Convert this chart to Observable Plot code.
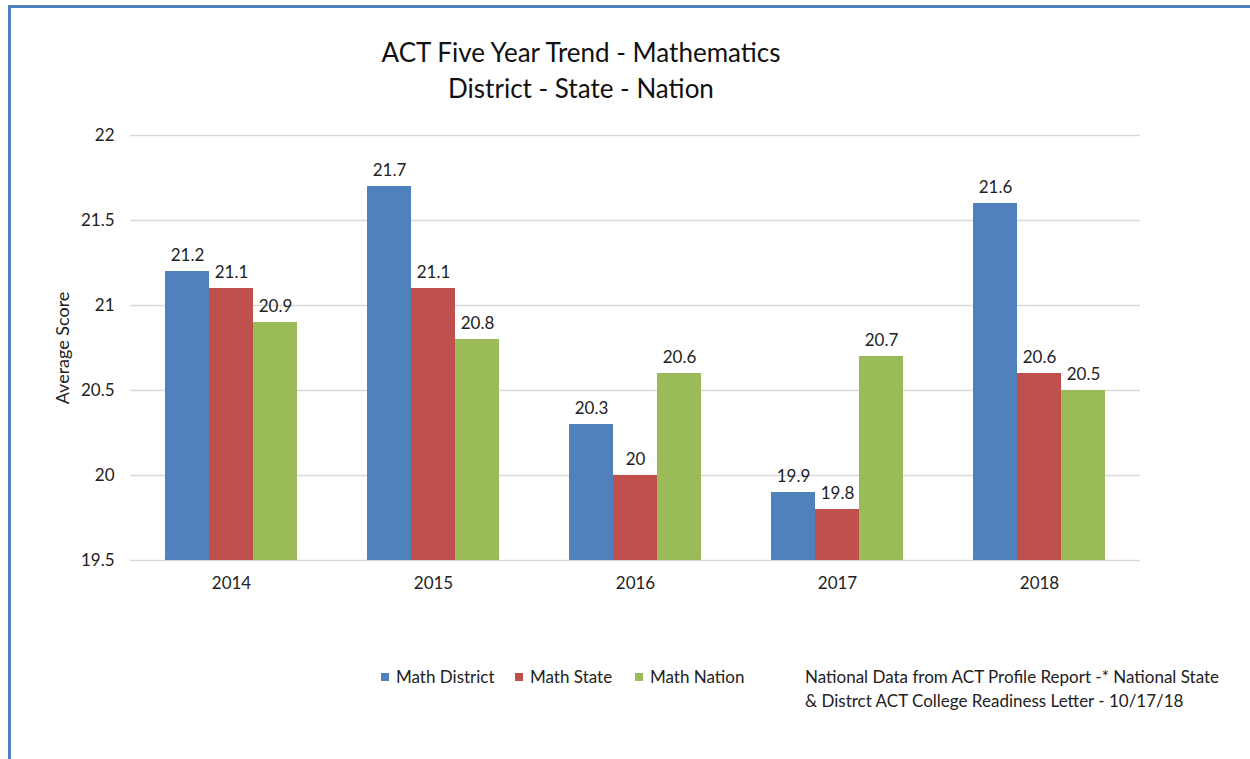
<!DOCTYPE html>
<html>
<head>
<meta charset="utf-8">
<script src="https://cdn.jsdelivr.net/npm/d3@7"></script>
<script src="https://cdn.jsdelivr.net/npm/@observablehq/plot@0.6"></script>
<style>
  html, body { margin: 0; padding: 0; background: #fff; }
  body { width: 1250px; height: 759px; position: relative; overflow: hidden; font-family: Lato, "Open Sans", sans-serif; color: #222; }
  #frame { position: absolute; left: 8px; top: 5px; width: 1260px; height: 800px; border-left: 3px solid #4F81BD; border-top: 3px solid #4F81BD; box-sizing: border-box; }
  #title { position: absolute; left: 0; width: 1162px; top: 34px; text-align: center; font-size: 26px; line-height: 36px; color: #111; }
  #chart { position: absolute; left: 0; top: 100px; }
  #legend { position: absolute; top: 665px; left: 0; font-size: 17px; color: #222; }
  #legend .item { position: absolute; top: 0; white-space: nowrap; line-height: 24px; }
  #legend .sw { position: absolute; left: -15px; top: 8px; width: 8px; height: 8px; }
  #caption { position: absolute; left: 805px; top: 665px; font-size: 17px; line-height: 24px; color: #222; }
  svg text { font-size: 17px; }
</style>
</head>
<body>
<div id="frame"></div>
<div id="title">ACT Five Year Trend - Mathematics<br>District - State - Nation</div>
<div id="chart"></div>
<div id="legend"></div>
<div id="caption">National Data from ACT Profile Report -* National State<br>&amp; Distrct ACT College Readiness Letter - 10/17/18</div>
<script>
const years = ["2014", "2015", "2016", "2017", "2018"];
const seriesNames = ["Math District", "Math State", "Math Nation"];
const district = [21.2, 21.7, 20.3, 19.9, 21.6];
const state = [21.1, 21.1, 20.0, 19.8, 20.6];
const nation = [20.9, 20.8, 20.6, 20.7, 20.5];
const colors = ["#4F81BD", "#C0504D", "#9BBB59"];
const yTicks = [19.5, 20, 20.5, 21, 21.5, 22];

const values = [district, state, nation];
const data = [];
years.forEach((yr, i) => {
  seriesNames.forEach((s, j) => {
    data.push({year: yr, series: s, value: values[j][i]});
  });
});

const base = 19.5;
const chart = Plot.plot({
  width: 1250,
  height: 500,
  marginLeft: 128,
  marginRight: 108,
  marginTop: 35,
  marginBottom: 40,
  style: {fontFamily: "Lato, 'Open Sans', sans-serif", fontSize: "17px", color: "#222", background: "transparent"},
  fx: {domain: years, padding: 0, label: null, tickSize: 0, tickPadding: 16, axis: "bottom"},
  x: {domain: seriesNames, paddingInner: 0, paddingOuter: 0.75, axis: null},
  y: {domain: [19.5, 22], ticks: yTicks, tickFormat: d => String(d), label: "Average Score", labelArrow: "none", labelAnchor: "center", labelOffset: 74, tickSize: 0, tickPadding: 16},
  color: {domain: seriesNames, range: colors},
  marks: [
    Plot.gridY(yTicks, {stroke: "#d9d9d9", strokeOpacity: 1, strokeWidth: 1.5}),
    Plot.rectY(data, {fx: "year", x: "series", y1: base, y2: "value", fill: "series"}),
    Plot.text(data, {fx: "year", x: "series", y: "value", text: d => String(d.value), lineAnchor: "bottom", dy: -11, fontSize: 17, fill: "#222"})
  ]
});
document.getElementById("chart").appendChild(chart);
chart.querySelectorAll("[aria-label='y-axis label'] text").forEach(t => t.style.fontSize = "18px");

const legendLeft = [396, 530, 650];
const legend = document.getElementById("legend");
seriesNames.forEach((s, j) => {
  const item = document.createElement("div");
  item.className = "item";
  item.style.left = legendLeft[j] + "px";
  const sw = document.createElement("span");
  sw.className = "sw";
  sw.style.background = colors[j];
  item.appendChild(sw);
  item.appendChild(document.createTextNode(s));
  legend.appendChild(item);
});
</script>
</body>
</html>
